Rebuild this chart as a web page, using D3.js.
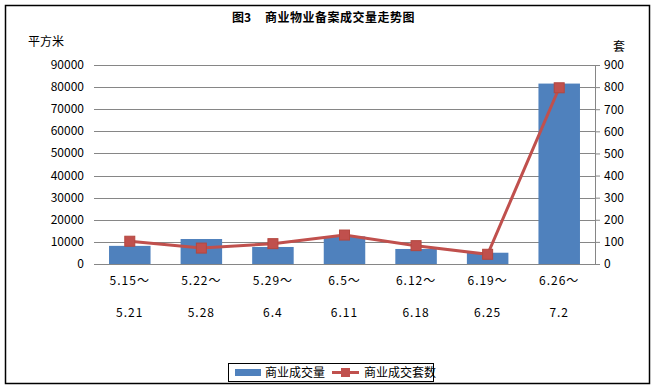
<!DOCTYPE html>
<html>
<head>
<meta charset="utf-8">
<script src="https://cdn.jsdelivr.net/npm/d3@7"></script>
<style>
  body { margin: 0; background: #fff; }
  text { font-family: "Noto Sans CJK SC", "DejaVu Sans", sans-serif; white-space: pre; }
</style>
</head>
<body>
<div id="chart"></div>
<script>
var categories = ["5.15～|5.21", "5.22～|5.28", "5.29～|6.4", "6.5～|6.11", "6.12～|6.18", "6.19～|6.25", "6.26～|7.2"]
var area = [8200, 11300, 7700, 12500, 6800, 5100, 81600]
var units = [103, 72, 92, 131, 83, 44, 797]
var leftTicks = [0, 10000, 20000, 30000, 40000, 50000, 60000, 70000, 80000, 90000]
var rightTicks = [0, 100, 200, 300, 400, 500, 600, 700, 800, 900]

var W = 654, H = 388
var margin = {top: 65, right: 59, bottom: 124, left: 94}
var width = W - margin.left - margin.right,
    height = H - margin.top - margin.bottom

var svg = d3.select("#chart").append("svg")
  .attr("width", W)
  .attr("height", H)

// outer frame
svg.append("rect")
  .attr("x", 5.5).attr("y", 5.5)
  .attr("width", 644).attr("height", 378)
  .attr("fill", "#fff")
  .attr("stroke", "#000")
  .attr("stroke-width", 1.5)

svg.append("text")
  .attr("x", 232).attr("y", 22)
  .attr("font-size", 12)
  .attr("font-weight", "bold")
  .text("图3")
svg.append("text")
  .attr("x", 265).attr("y", 22)
  .attr("font-size", 12)
  .attr("font-weight", "bold")
  .attr("letter-spacing", 0.5)
  .text("商业物业备案成交量走势图")

svg.append("text")
  .attr("x", 28).attr("y", 46)
  .attr("font-size", 12)
  .text("平方米")

svg.append("text")
  .attr("x", 613).attr("y", 51)
  .attr("font-size", 12)
  .text("套")

var g = svg.append("g")
  .attr("transform", "translate(" + margin.left + "," + margin.top + ")")

var x = d3.scaleBand().domain(categories).range([0, width]).paddingInner(0.42).paddingOuter(0.21)
var yL = d3.scaleLinear().domain([0, 90000]).range([height, 0])
var yR = d3.scaleLinear().domain([0, 900]).range([height, 0])

// gridlines
g.selectAll(".grid")
  .data(leftTicks)
  .enter().append("line")
  .attr("x1", 0).attr("x2", width)
  .attr("y1", function(d){ return Math.round(yL(d)) + 0.5 })
  .attr("y2", function(d){ return Math.round(yL(d)) + 0.5 })
  .attr("stroke", "#868686")
  .attr("stroke-width", 1)

// left labels
g.selectAll(".ll")
  .data(leftTicks)
  .enter().append("text")
  .attr("x", -10)
  .attr("y", function(d){ return yL(d) + 4 })
  .attr("text-anchor", "end")
  .attr("font-size", 12)
  .attr("font-family", "DejaVu Sans")
  .text(function(d){ return d })

// right axis
var axR = g.append("g")
  .attr("transform", "translate(" + width + ",0)")
  .call(d3.axisRight(yR).tickValues(rightTicks).tickSize(5).tickPadding(4))
axR.selectAll("path, line").attr("stroke", "#868686")
axR.select(".domain").attr("d", "M0.5,0V" + height)
axR.selectAll("text").attr("font-size", 12).attr("font-family", "DejaVu Sans").attr("fill", "#000")

// bars
g.selectAll(".bar")
  .data(area)
  .enter().append("rect")
  .attr("x", function(d, i){ return x(categories[i]) })
  .attr("width", x.bandwidth())
  .attr("y", function(d){ return yL(d) })
  .attr("height", function(d){ return height - yL(d) })
  .attr("fill", "#4F81BD")

// line
var cx = function(i){ return x(categories[i]) + x.bandwidth() / 2 }
var line = d3.line()
  .x(function(d, i){ return cx(i) })
  .y(function(d){ return yR(d) })

g.append("path")
  .datum(units)
  .attr("d", line)
  .attr("fill", "none")
  .attr("stroke", "#C0504D")
  .attr("stroke-width", 3)

g.selectAll(".mk")
  .data(units)
  .enter().append("rect")
  .attr("x", function(d, i){ return cx(i) - 5 })
  .attr("y", function(d){ return yR(d) - 5 })
  .attr("width", 10).attr("height", 10)
  .attr("fill", "#C0504D")
  .attr("stroke", "#B4473F")

// category labels, two rows
categories.forEach(function(c, i){
  var parts = c.split("|")
  g.append("text")
    .attr("x", cx(i)).attr("y", height + 21)
    .attr("text-anchor", "middle")
    .attr("font-size", 12)
    .attr("letter-spacing", 1)
    .text(parts[0])
  g.append("text")
    .attr("x", cx(i)).attr("y", height + 53)
    .attr("text-anchor", "middle")
    .attr("font-size", 12)
    .attr("letter-spacing", 1)
    .text(parts[1])
})

// legend
var lg = svg.append("g").attr("transform", "translate(228,363)")
lg.append("rect")
  .attr("x", 0.5).attr("y", 0.5)
  .attr("width", 205).attr("height", 18)
  .attr("fill", "#fff").attr("stroke", "#000")
lg.append("rect")
  .attr("x", 7).attr("y", 6).attr("width", 26).attr("height", 7)
  .attr("fill", "#4F81BD")
lg.append("text")
  .attr("x", 37).attr("y", 14).attr("font-size", 12)
  .text("商业成交量")
lg.append("line")
  .attr("x1", 104).attr("x2", 131).attr("y1", 9.5).attr("y2", 9.5)
  .attr("stroke", "#C0504D").attr("stroke-width", 3)
lg.append("rect")
  .attr("x", 113).attr("y", 5).attr("width", 9).attr("height", 9)
  .attr("fill", "#C0504D")
lg.append("text")
  .attr("x", 136).attr("y", 14).attr("font-size", 12)
  .text("商业成交套数")
</script>
</body>
</html>
